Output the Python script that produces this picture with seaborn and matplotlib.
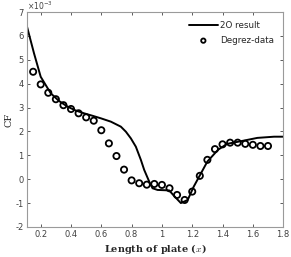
import numpy as np
import pandas as pd
import matplotlib
matplotlib.use("Agg")
import matplotlib.pyplot as plt
import seaborn as sns

line_x = [0.11, 0.156, 0.2, 0.266, 0.32, 0.377, 0.43, 0.486, 0.54, 0.597, 0.663, 0.729, 0.762,
          0.795, 0.828, 0.861, 0.883, 0.916, 0.938, 0.971, 1.01, 1.048, 1.08, 1.125, 1.17, 1.21,
          1.258, 1.30, 1.37, 1.43, 1.52, 1.63, 1.74, 1.8]
line_y = [6.38, 5.27, 4.29, 3.6, 3.28, 3.04, 2.88, 2.76, 2.66, 2.55, 2.41, 2.20, 1.99,
          1.71, 1.36, 0.81, 0.39, -0.10, -0.38, -0.45, -0.46, -0.47, -0.70, -1.0, -0.87, -0.31,
          0.25, 0.74, 1.23, 1.48, 1.59, 1.73, 1.78, 1.78]

data_x = [0.15, 0.2, 0.25, 0.3, 0.35, 0.4, 0.45, 0.5, 0.55, 0.6, 0.65, 0.7, 0.75, 0.8, 0.85, 0.9,
          0.95, 1.0, 1.05, 1.1, 1.15, 1.2, 1.25, 1.3, 1.35, 1.4, 1.45, 1.5, 1.55, 1.6, 1.65, 1.7]
data_y = [4.50, 3.97, 3.62, 3.35, 3.10, 2.94, 2.76, 2.59, 2.45, 2.05, 1.50, 0.97, 0.40, -0.05, -0.17, -0.23,
          -0.20, -0.24, -0.38, -0.66, -0.87, -0.52, 0.14, 0.81, 1.26, 1.46, 1.53, 1.53, 1.48, 1.44, 1.39, 1.39]

df_line = pd.DataFrame({"x": line_x, "CF": np.array(line_y) * 1e-3})
df_pts = pd.DataFrame({"x": data_x, "CF": np.array(data_y) * 1e-3})

sns.set_style("ticks")
plt.rcParams["mathtext.fontset"] = "cm"
plt.rcParams["font.family"] = ["DejaVu Sans"]

fig = plt.figure(figsize=(2.91, 2.57), dpi=100)
ax = fig.add_axes([0.093, 0.117, 0.880, 0.836])

sns.lineplot(data=df_line, x="x", y="CF", ax=ax, color="black", linewidth=1.4,
             label="2O result", sort=False)
sns.scatterplot(data=df_pts, x="x", y="CF", ax=ax, marker="o", s=20,
                facecolors="none", edgecolor="black", linewidth=1.3, label="Degrez-data")

ax.set_xlim(0.11, 1.8)
ax.set_ylim(-2e-3, 7e-3)
ax.set_xticks([0.2, 0.4, 0.6, 0.8, 1.0, 1.2, 1.4, 1.6, 1.8])
ax.set_xticklabels(["0.2", "0.4", "0.6", "0.8", "1", "1.2", "1.4", "1.6", "1.8"])
ax.set_yticks(np.arange(-2, 8) * 1e-3)
ax.set_yticklabels([str(v) for v in range(-2, 8)])

ax.tick_params(direction="in", length=2.5, width=0.6, labelsize=6, colors="#404040",
               top=True, right=True, pad=2.5)
for sp in ax.spines.values():
    sp.set_visible(True)
    sp.set_color("#9a9a9a")
    sp.set_linewidth(0.8)

ax.text(0.0, 1.0 + 2.0 / 215, r"$\mathregular{\times10^{-3}}$", transform=ax.transAxes,
        fontsize=5.5, color="#404040", ha="left", va="baseline")

ax.set_xlabel(r"Length of plate ($x$)", family="DejaVu Serif", fontweight="bold",
              fontsize=7, labelpad=2)
ax.set_ylabel("CF", family="DejaVu Serif", fontsize=7, labelpad=1)

leg = ax.legend(loc="upper right", frameon=False, fontsize=6.3, handlelength=3.3,
                handletextpad=0.3, borderaxespad=0.6, labelspacing=0.7, markerscale=0.7)

fig.savefig("out.png", dpi=100)
